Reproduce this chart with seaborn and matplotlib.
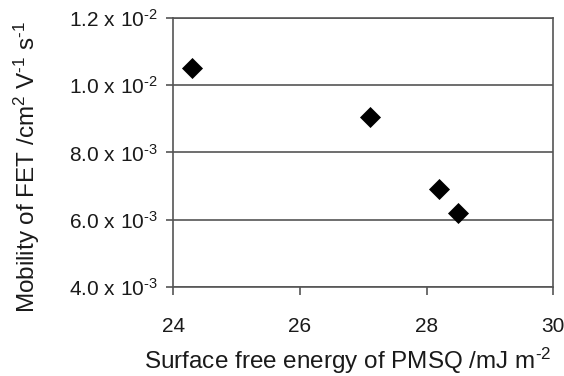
import pandas as pd
import matplotlib
matplotlib.use("Agg")
import matplotlib.pyplot as plt
import seaborn as sns

# surface free energy of PMSQ (mJ m^-2) vs FET mobility (cm^2 V^-1 s^-1)
surface_energy = [24.3, 27.1, 28.2, 28.5]
mobility = [0.0105, 0.00905, 0.0069, 0.0062]

y_ticks = [0.004, 0.006, 0.008, 0.010, 0.012]
y_tick_labels = [r"4.0 x 10$^{\text{-3}}$", r"6.0 x 10$^{\text{-3}}$", r"8.0 x 10$^{\text{-3}}$",
                 r"1.0 x 10$^{\text{-2}}$", r"1.2 x 10$^{\text{-2}}$"]
x_ticks = [24, 26, 28, 30]

df = pd.DataFrame({"energy": surface_energy, "mobility": mobility})

sns.set_style("white")
plt.rcParams['font.family'] = ['Liberation Sans', 'DejaVu Sans']
plt.rcParams['mathtext.fontset'] = 'custom'
plt.rcParams['mathtext.rm'] = 'Liberation Sans'
plt.rcParams['mathtext.it'] = 'Liberation Sans'
plt.rcParams['mathtext.default'] = 'regular'

txt = "#1a1a1a"
line = "#555555"

fig = plt.figure(figsize=(5.64, 3.76), dpi=100)
ax = fig.add_axes([0.307, 0.237, 0.674, 0.715])

sns.scatterplot(data=df, x="energy", y="mobility", marker="D", s=115,
                color="black", edgecolor="black", linewidth=0, ax=ax, zorder=3)

ax.set_xlim(24, 30)
ax.set_ylim(0.004, 0.012)
ax.set_xticks(x_ticks)
ax.set_yticks(y_ticks)
ax.set_yticklabels(y_tick_labels)
ax.yaxis.grid(True, color=line, linewidth=1.2)
ax.xaxis.grid(False)

for s in ax.spines.values():
    s.set_color(line)
    s.set_linewidth(1.2)

ax.tick_params(axis="y", direction="out", length=5, width=1.2, color=line,
               labelsize=15, labelcolor=txt, pad=6, left=True)
ax.tick_params(axis="x", direction="out", length=6, width=1.2, color=line,
               labelsize=15, labelcolor=txt, pad=16, bottom=True)

ax.set_xlabel(r"Surface free energy of PMSQ /mJ m$^{\text{-2}}$", fontsize=17.5, color=txt)
ax.set_ylabel(r"Mobility of FET /cm$^{2}$ V$^{\text{-1}}$ s$^{\text{-1}}$", fontsize=17.5, color=txt)
ax.xaxis.set_label_coords(0.458, -0.22)
ax.yaxis.set_label_coords(-0.345, 0.446)

fig.savefig("out.png", dpi=100)
